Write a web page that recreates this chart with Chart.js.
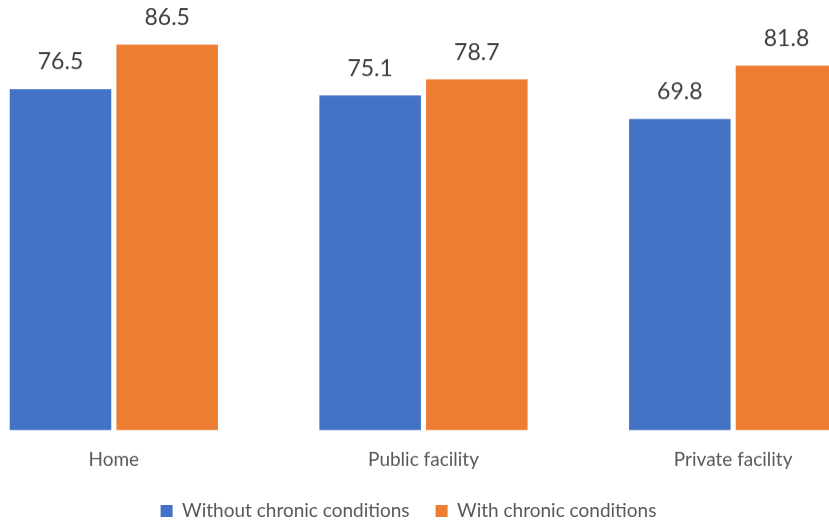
<!DOCTYPE html>
<html>
<head>
<meta charset="utf-8">
<script src="https://cdn.jsdelivr.net/npm/chart.js@4"></script>
<style>
  html, body { margin: 0; padding: 0; background: #fff; overflow: hidden; width: 829px; height: 520px; }
  #wrap { position: absolute; left: -71px; top: 0; width: 959px; height: 529.5px; }
</style>
</head>
<body>
<div id="wrap"><canvas id="chart"></canvas></div>
<script>
const categories = ['Home', 'Public facility', 'Private facility'];
const withoutChronic = [76.5, 75.1, 69.8];
const withChronic = [86.5, 78.7, 81.8];
const seriesNames = ['Without chronic conditions', 'With chronic conditions'];

const FONT = 'Lato, "Open Sans", sans-serif';

// Writes each bar's value just above its top edge
const valueLabels = {
  id: 'valueLabels',
  afterDatasetsDraw(chart) {
    const ctx = chart.ctx;
    ctx.save();
    ctx.font = '23px ' + FONT;
    ctx.fillStyle = '#404040';
    ctx.textAlign = 'center';
    ctx.textBaseline = 'middle';
    chart.data.datasets.forEach((ds, i) => {
      chart.getDatasetMeta(i).data.forEach((bar, j) => {
        ctx.fillText(ds.data[j].toFixed(1), bar.x, bar.y - 27);
      });
    });
    ctx.restore();
  }
};

new Chart(document.getElementById('chart'), {
  type: 'bar',
  data: {
    labels: categories,
    datasets: [
      { label: seriesNames[0], data: withoutChronic, backgroundColor: '#4472C4' },
      { label: seriesNames[1], data: withChronic, backgroundColor: '#ED7D31' }
    ]
  },
  options: {
    responsive: true,
    maintainAspectRatio: false,
    animation: false,
    datasets: { bar: { categoryPercentage: 0.689, barPercentage: 0.952 } },
    layout: { padding: { top: 20, left: 0, right: 0, bottom: 0 } },
    scales: {
      x: {
        grid: { display: false },
        border: { display: false },
        ticks: { color: '#595959', font: { family: FONT, size: 19 }, padding: 10 },
        afterFit(scale) { scale.height = 45; }
      },
      y: {
        min: 0,
        max: 92,
        grid: { display: false },
        border: { display: false },
        ticks: { display: false },
        afterFit(scale) { scale.width = 30; }
      }
    },
    plugins: {
      legend: {
        position: 'bottom',
        labels: {
          color: '#595959',
          font: { family: FONT, size: 19 },
          boxWidth: 12,
          boxHeight: 12,
          padding: 26
        }
      },
      tooltip: { enabled: false }
    }
  },
  plugins: [valueLabels]
});
</script>
</body>
</html>
